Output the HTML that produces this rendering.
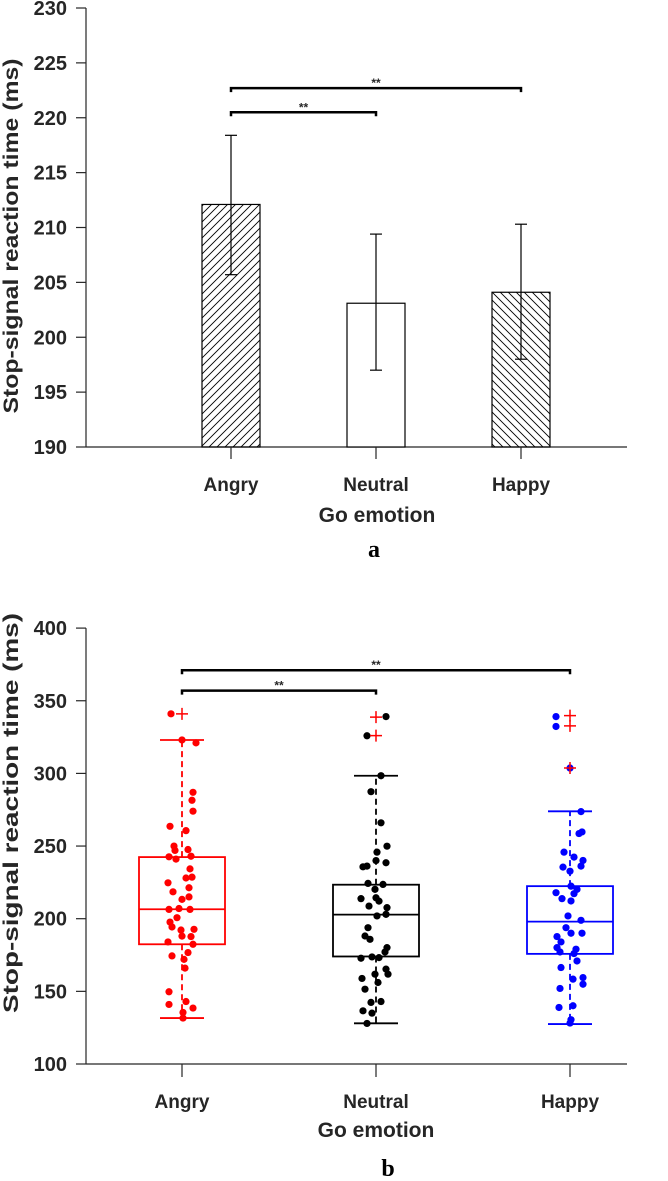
<!DOCTYPE html>
<html><head><meta charset="utf-8"><style>
html,body{margin:0;padding:0;background:#fff}
svg{display:block}
text{font-family:"Liberation Sans",sans-serif;font-weight:bold;fill:#262626}
</style></head><body>
<svg id="s" width="668" height="1181" viewBox="0 0 668 1181">
<defs>
<pattern id="hf" width="8" height="8" patternUnits="userSpaceOnUse"><path d="M-2,2 l4,-4 M0,8 l8,-8 M6,10 l4,-4" stroke="#000" stroke-width="0.9"/></pattern>
<pattern id="hb" width="8" height="8" patternUnits="userSpaceOnUse"><path d="M-2,6 l4,4 M0,0 l8,8 M6,-2 l4,4" stroke="#000" stroke-width="0.9"/></pattern>
</defs>
<g id="top"></g>
<g id="bot"></g>
<text x="374" y="557" font-size="24" text-anchor="middle" style="font-family:'Liberation Serif',serif;fill:#000">a</text>
<text x="388" y="1176" font-size="24" text-anchor="middle" style="font-family:'Liberation Serif',serif;fill:#000">b</text>
</svg>
<script>
const NS='http://www.w3.org/2000/svg';
function mk(p,tag,at,txt){const e=document.createElementNS(NS,tag);for(const k in at)e.setAttribute(k,at[k]);if(txt!==undefined)e.textContent=txt;p.appendChild(e);return e;}

// ---- data: panel a ----
const categories=['Angry','Neutral','Happy'];
const barMeans=[212.1,203.1,204.1];
const barLow=[205.7,197.0,198.0];
const barHigh=[218.4,209.4,210.3];
const topTicks=[190,195,200,205,210,215,220,225,230];
// ---- data: panel b ----
const boxQ1=[182.4,174,175.8];
const boxMedian=[206.5,202.8,198];
const boxQ3=[242.4,223.4,222.4];
const whiskLow=[131.6,128,127.5];
const whiskHigh=[323,298.4,273.9];
const outAngry=[341];
const outNeutral=[338.7,326];
const outHappy=[339.8,332.7,303.7];
const ptsAngry=[341,323,321,287,281.5,274,263.6,260.6,250,247,247.6,242.6,241,243,234.3,228,228.6,224.7,218.5,221.3,213.3,215,206.4,207,206.4,200.7,197.7,194.3,192.2,192.7,188,187.7,184,182.4,174.4,176.7,172,166,149.7,141,143,138.5,135.5,131.6];
const jitAngry=[-11,0,14,11,10,11,-12,4,-8,-7,6,-13,-6,9,8,4,10,-14,-9,7,0,7,-13,-3,8,-5,-12,-10,-1,12,0,9,-14,11,-10,6,2,3,-13,-13,4,11,1,1];
const ptsNeutral=[339.1,325.9,298.4,287.4,266,249.9,245.8,240,238.5,235.7,236.2,224.3,223.6,220.2,213.8,214.4,208.7,212.1,207.6,201.9,203,193.8,188.1,185.8,180.1,177.1,172.8,173.7,173.2,165.3,161.8,161.8,158.9,156.1,151.5,142.4,143,136.6,135,127.9];
const jitNeutral=[10,-9,5,-5,5,11,1,0,10,-13,-9,-8,7,-1,-15,0,-7,3,11,1,10,-8,-11,-6,11,9,-15,-4,3,10,12,-1,-14,2,-11,-5,5,-13,-4,-9];
const ptsHappy=[339.1,332.3,303.7,273.7,259.7,258.6,245.8,242.4,240.1,236.2,235.5,232.7,222.4,220.2,217.9,213.8,212.2,217.2,201.9,198.9,193.8,190,190,187.7,184,180.1,179,177.1,176,170.9,166.4,158.4,159.5,154.9,152,140.1,138.9,130.5,128.2];
const jitHappy=[-14,-14,0,11,12,9,-6,4,13,11,-7,0,1,7,-14,-8,1,4,-2,11,-4,1,12,-13,-9,-13,6,-10,4,7,-9,3,13,13,-10,3,-11,1,0];
const botTicks=[100,150,200,250,300,350,400];

const X0=86, XR=627;
// ---- panel a ----
const gt=document.getElementById('top');
const ya=v=>447-(v-190)*10.975;
const xa=i=>231+i*145;
mk(gt,'line',{x1:X0,y1:ya(190),x2:X0,y2:ya(230),stroke:'#262626','stroke-width':1.2,});
mk(gt,'line',{x1:X0,y1:ya(190),x2:XR,y2:ya(190),stroke:'#262626','stroke-width':1.2,});
topTicks.forEach(t=>{
 mk(gt,'line',{x1:X0-10,y1:ya(t),x2:X0,y2:ya(t),stroke:'#262626','stroke-width':1.2});
 const e=mk(gt,'text',{x:67,y:ya(t)+7,'font-size':20,'text-anchor':'end'},t);
 
 
});
const fills=['url(#hf)','#fff','url(#hb)'];
categories.forEach((c,i)=>{
 const b=mk(gt,'rect',{x:xa(i)-29,y:ya(barMeans[i]),width:58,height:ya(190)-ya(barMeans[i]),fill:fills[i],stroke:'#000','stroke-width':1.2});
 
 
 const g=mk(gt,'g',{stroke:'#000','stroke-width':1.2});
 
 
 mk(g,'line',{x1:xa(i),y1:ya(barLow[i]),x2:xa(i),y2:ya(barHigh[i])});
 mk(g,'line',{x1:xa(i)-6,y1:ya(barLow[i]),x2:xa(i)+6,y2:ya(barLow[i])});
 mk(g,'line',{x1:xa(i)-6,y1:ya(barHigh[i]),x2:xa(i)+6,y2:ya(barHigh[i])});
 mk(gt,'line',{x1:xa(i),y1:ya(190),x2:xa(i),y2:ya(190)+12,stroke:'#262626','stroke-width':1.2});
 const l=mk(gt,'text',{x:xa(i),y:491,'font-size':19,'text-anchor':'middle'},c);
 
 
});
function bracket(g,x1,x2,y,name){
 const p=mk(g,'path',{d:`M${x1},${y+4} V${y} H${x2} V${y+4}`,fill:'none',stroke:'#000','stroke-width':2.5});
 
 
 const t=mk(g,'text',{x:(x1+x2)/2,y:y-1,'font-size':12,'text-anchor':'middle'},'**');
 
 
}
bracket(gt,xa(0),xa(1),ya(220.5),'sig-bracket-angry-neutral-a');
bracket(gt,xa(0),xa(2),ya(222.7),'sig-bracket-angry-happy-a');
mk(gt,'text',{x:377,y:522,'font-size':21,'text-anchor':'middle',},'Go emotion');
mk(gt,'text',{x:0,y:0,'font-size':21,'text-anchor':'middle',textLength:355,lengthAdjust:'spacingAndGlyphs',transform:'translate(18,236) rotate(-90)',},'Stop-signal reaction time (ms)');

// ---- panel b ----
const gb=document.getElementById('bot');
const yb=v=>1064-(v-100)*1.453;
const xb=i=>182+i*194;
mk(gb,'line',{x1:X0,y1:yb(100),x2:X0,y2:yb(400),stroke:'#262626','stroke-width':1.2,});
mk(gb,'line',{x1:X0,y1:yb(100),x2:XR,y2:yb(100),stroke:'#262626','stroke-width':1.2,});
botTicks.forEach(t=>{
 mk(gb,'line',{x1:X0-10,y1:yb(t),x2:X0,y2:yb(t),stroke:'#262626','stroke-width':1.2});
 const e=mk(gb,'text',{x:67,y:yb(t)+7,'font-size':20,'text-anchor':'end'},t);
 
 
});
const cols=['#f00','#000','#00f'];
const pts=[ptsAngry,ptsNeutral,ptsHappy], jit=[jitAngry,jitNeutral,jitHappy], outs=[outAngry,outNeutral,outHappy];
categories.forEach((c,i)=>{
 const col=cols[i], x=xb(i);
 const g=mk(gb,'g',{stroke:col,'stroke-width':1.8,fill:'none'});
 
 
 mk(g,'line',{x1:x,y1:yb(boxQ3[i]),x2:x,y2:yb(whiskHigh[i]),'stroke-dasharray':'6,4'});
 mk(g,'line',{x1:x,y1:yb(boxQ1[i]),x2:x,y2:yb(whiskLow[i]),'stroke-dasharray':'6,4'});
 mk(g,'line',{x1:x-22,y1:yb(whiskHigh[i]),x2:x+22,y2:yb(whiskHigh[i])});
 mk(g,'line',{x1:x-22,y1:yb(whiskLow[i]),x2:x+22,y2:yb(whiskLow[i])});
 mk(g,'rect',{x:x-43,y:yb(boxQ3[i]),width:86,height:yb(boxQ1[i])-yb(boxQ3[i])});
 mk(g,'line',{x1:x-43,y1:yb(boxMedian[i]),x2:x+43,y2:yb(boxMedian[i])});
 pts[i].forEach((v,k)=>{
  const d=mk(gb,'circle',{cx:x+jit[i][k],cy:yb(v),r:3.6,fill:col});
  
  
 });
 outs[i].forEach(v=>{
  const o=mk(gb,'path',{d:`M${x-6},${yb(v)} H${x+6} M${x},${yb(v)-6} V${yb(v)+6}`,stroke:'#f00','stroke-width':1.5});
  
  
 });
 mk(gb,'line',{x1:x,y1:yb(100),x2:x,y2:yb(100)+13,stroke:'#262626','stroke-width':1.2});
 const l=mk(gb,'text',{x:x,y:1108,'font-size':19,'text-anchor':'middle'},c);
 
 
});
bracket(gb,xb(0),xb(1),yb(357),'sig-bracket-angry-neutral-b');
bracket(gb,xb(0),xb(2),yb(371),'sig-bracket-angry-happy-b');
mk(gb,'text',{x:376,y:1137,'font-size':21,'text-anchor':'middle',},'Go emotion');
mk(gb,'text',{x:0,y:0,'font-size':21,'text-anchor':'middle',textLength:400,lengthAdjust:'spacingAndGlyphs',transform:'translate(18,813) rotate(-90)',},'Stop-signal reaction time (ms)');
</script>
</body></html>
